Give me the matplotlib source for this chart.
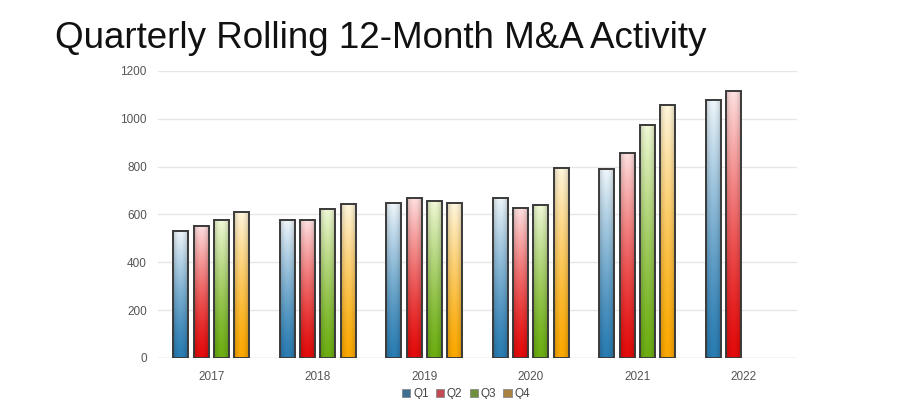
import numpy as np
import matplotlib
matplotlib.use("Agg")
import matplotlib.pyplot as plt
from matplotlib.colors import to_rgb
from matplotlib.patches import Patch

plt.rcParams["font.family"] = ["Liberation Sans", "DejaVu Sans"]

# ---------------- Data ----------------
years = ["2017", "2018", "2019", "2020", "2021", "2022"]
quarters = ["Q1", "Q2", "Q3", "Q4"]
q1 = [531, 577, 647, 670, 790, 1080]
q2 = [552, 577, 670, 628, 858, 1115]
q3 = [577, 623, 657, 640, 975, None]
q4 = [611, 643, 648, 795, 1058, None]
series = [q1, q2, q3, q4]

# bottom (saturated) colour, top (pale) colour
base_colors = ["#2a7db3", "#e40b0b", "#6cae12", "#fba800"]
top_colors = ["#eef6fb", "#ffe0e0", "#f0f9d6", "#fff6dc"]
legend_colors = ["#3f6f90", "#c24a55", "#6f8f3a", "#a88240"]

BAR_W = 0.14
STEP = 0.19


def bar_gradient(bottom, top, n=64):
    b = np.array(to_rgb(bottom))
    t = np.array(to_rgb(top))
    v = np.linspace(0, 1, n)[:, None]  # 0 = bottom, 1 = top
    v = v ** 1.3
    col = b[None, :] * (1 - v) + t[None, :] * v
    # slight cylinder shading across the bar
    h = np.linspace(-1, 1, 16)
    shade = 1 - 0.18 * h ** 2
    img = col[:, None, :] * shade[None, :, None]
    return np.clip(img, 0, 1)


fig = plt.figure(figsize=(9.01, 3.99), dpi=100)
ax = fig.add_axes([158 / 901, 41 / 399, 639 / 901, 287 / 399])

x = np.arange(len(years))
for i, vals in enumerate(series):
    grad = bar_gradient(base_colors[i], top_colors[i])
    for j, v in enumerate(vals):
        if v is None:
            continue
        xc = x[j] + (i - 1.5) * STEP
        ax.imshow(grad, extent=[xc - BAR_W / 2, xc + BAR_W / 2, 0, v],
                  origin="lower", aspect="auto", zorder=3, interpolation="bilinear")
        ax.bar(xc, v, width=BAR_W, fill=False, edgecolor="#3a3a3a",
               linewidth=1.4, zorder=4)

ax.set_xlim(-0.5, len(years) - 0.5)
ax.set_ylim(0, 1200)
ax.set_yticks(np.arange(0, 1201, 200))
ax.set_xticks(x)
ax.set_xticklabels(years)
ax.grid(axis="y", color="#e6e6e6", linewidth=1, zorder=0)
ax.set_axisbelow(True)
for s in ax.spines.values():
    s.set_visible(False)
ax.tick_params(axis="both", length=0, labelsize=8.5, colors="#555555", pad=9)
ax.tick_params(axis="y", pad=8)
ax.axhline(0, color="#d8d8d8", linewidth=1, zorder=1)

fig.text(55 / 901, 1 - 39 / 399, "Quarterly Rolling 12-Month M&A Activity",
         fontsize=26.5, va="center", ha="left", color="#111111")

handles = [Patch(facecolor=c, edgecolor="#888888", linewidth=0.6) for c in legend_colors]
fig.legend(handles, quarters, loc="center", bbox_to_anchor=(466 / 901, 1 - 394 / 399),
           ncol=4, frameon=False, fontsize=8.5, handlelength=0.7, handleheight=0.7,
           handletextpad=0.25, columnspacing=0.6, labelcolor="#444444")

fig.savefig("out.png", dpi=100)
